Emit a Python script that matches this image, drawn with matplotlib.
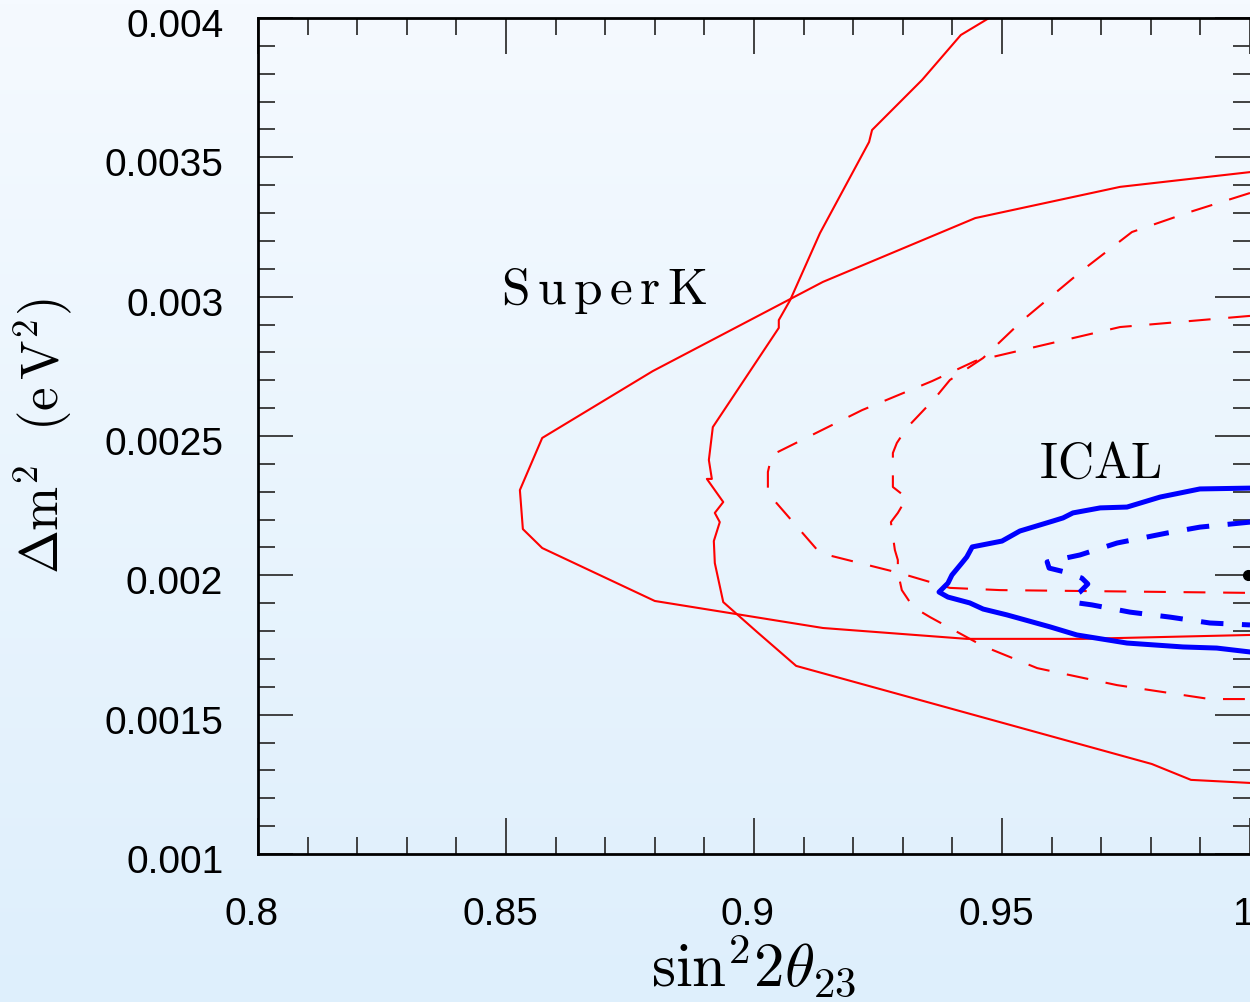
# SuperK vs ICAL allowed regions in sin^2 2theta23 - dm^2 plane
import numpy as np
import matplotlib.pyplot as plt
from matplotlib.transforms import ScaledTranslation

plt.rcParams['mathtext.fontset'] = 'cm'

# SuperK solid contour (wide in sin^2, narrow in dm^2)
sk1_x = [1.0, 0.9738, 0.9446, 0.9139, 0.8796, 0.8573, 0.8528, 0.8534, 0.8573, 0.8800, 0.9139, 0.9429, 0.9663, 1.0]
sk1_y = [0.003447, 0.003394, 0.003282, 0.003053, 0.002733, 0.002493, 0.002306, 0.002166, 0.002098, 0.001908, 0.001811, 0.001772, 0.001772, 0.001786]

# SuperK solid contour (narrow in sin^2, tall in dm^2)
sk2_x = [0.9474, 0.9417, 0.9339, 0.9238, 0.9232, 0.9133, 0.9073, 0.9050, 0.9050, 0.8917, 0.8909, 0.8915, 0.8905,
         0.8938, 0.8921, 0.8931, 0.8919, 0.8921, 0.8938, 0.9006, 0.9085, 0.9802, 0.9881, 1.0]
sk2_y = [0.004, 0.003939, 0.003778, 0.003598, 0.003555, 0.003228, 0.002988, 0.002916, 0.002888, 0.002532, 0.002414, 0.002346, 0.002346,
         0.002263, 0.002224, 0.002191, 0.002123, 0.002044, 0.001904, 0.001797, 0.001675, 0.001323, 0.001266, 0.001255]

# SuperK dashed contour (wide in sin^2)
sk3_x = [1.0, 0.9738, 0.9446, 0.9359, 0.9218, 0.9036, 0.9028, 0.9028, 0.9133, 0.9294, 0.9395, 0.9496, 1.0]
sk3_y = [0.002931, 0.002891, 0.002769, 0.002697, 0.002593, 0.002432, 0.002371, 0.002295, 0.00208, 0.002008, 0.001955, 0.001947, 0.001937]

# SuperK dashed contour (narrow in sin^2)
sk4_x = [1.0, 0.9879, 0.9762, 0.9663, 0.9542, 0.9462, 0.9395, 0.9365, 0.9308, 0.9288, 0.9280, 0.9280, 0.9308, 0.9290,
         0.9276, 0.9284, 0.9290, 0.9290, 0.9298, 0.9321, 0.9355, 0.9462, 0.9571, 0.9732, 0.9919, 1.0]
sk4_y = [0.003372, 0.003304, 0.003232, 0.003096, 0.002916, 0.00278, 0.002701, 0.002636, 0.002529, 0.002475, 0.002439, 0.002317, 0.002278, 0.002224,
         0.002191, 0.002091, 0.002055, 0.002012, 0.001947, 0.001886, 0.00185, 0.001746, 0.001667, 0.001606, 0.001556, 0.001556]

# ICAL solid contour
ic1_x = [1.0, 0.9899, 0.9819, 0.9752, 0.9698, 0.9643, 0.9623, 0.9603, 0.9536, 0.9500, 0.9440, 0.9429, 0.9419, 0.9399, 0.9391,
         0.9373, 0.9391, 0.9435, 0.9462, 0.9510, 0.9597, 0.9651, 0.9752, 0.9865, 0.9933, 1.0]
ic1_y = [0.002313, 0.00231, 0.002281, 0.002245, 0.002242, 0.002224, 0.002206, 0.002195, 0.002159, 0.002123, 0.002102, 0.002066, 0.002044, 0.002001, 0.001972,
         0.00194, 0.001922, 0.001901, 0.001879, 0.001858, 0.001815, 0.001786, 0.001757, 0.001743, 0.001739, 0.001725]

# ICAL dashed contour
ic2_x = [1.0, 0.9899, 0.9833, 0.9732, 0.9657, 0.9591, 0.9595, 0.9627, 0.9661, 0.9673, 0.9657, 0.9641, 0.9653, 0.9681,
         0.9758, 0.9839, 0.9919, 1.0]
ic2_y = [0.002191, 0.002173, 0.002152, 0.002116, 0.002073, 0.002048, 0.002026, 0.002012, 0.00199, 0.001969, 0.00194, 0.001922, 0.001901, 0.001894,
         0.001868, 0.00185, 0.001829, 0.001822]

best_fit = (0.9996, 0.002)

fig = plt.figure(figsize=(12.5, 10.02), dpi=100)

# light blue gradient background
bg = fig.add_axes([0, 0, 1, 1], zorder=-1)
grad = np.linspace(0, 1, 256).reshape(-1, 1)
top = np.array([245, 250, 255]) / 255
bot = np.array([222, 239, 252]) / 255
img = top + grad[..., None] * (bot - top)
bg.imshow(np.repeat(img, 2, axis=1), aspect='auto', extent=[0, 1, 0, 1])
bg.axis('off')

ax = fig.add_axes([258 / 1250, 1 - 854 / 1002, 992 / 1250, 836 / 1002])
ax.set_facecolor('none')

red_dash = (10.5, 8.5)
blue_dash = (4.5, 3.7)
ax.plot(sk1_x, sk1_y, color='red', lw=1.5)
ax.plot(sk2_x, sk2_y, color='red', lw=1.5)
ax.plot(sk3_x, sk3_y, color='red', lw=1.5, dashes=red_dash)
ax.plot(sk4_x, sk4_y, color='red', lw=1.5, dashes=red_dash)
ax.plot(ic1_x, ic1_y, color='blue', lw=3.6, solid_joinstyle='round')
ax.plot(ic2_x, ic2_y, color='blue', lw=3.6, dashes=blue_dash, dash_capstyle='butt')
ax.plot(*best_fit, 'o', color='black', ms=7, clip_on=False)

ax.set_xlim(0.8, 1.0)
ax.set_ylim(0.001, 0.004)
ax.set_xticks([0.8, 0.85, 0.9, 0.95, 1.0])
ax.set_xticklabels(['0.8', '0.85', '0.9', '0.95', '1'])
ax.set_xticks(np.arange(0.8, 1.001, 0.01), minor=True)
ax.set_yticks([0.001, 0.0015, 0.002, 0.0025, 0.003, 0.0035, 0.004])
ax.set_yticklabels(['0.001', '0.0015', '0.002', '0.0025', '0.003', '0.0035', '0.004'])
ax.set_yticks(np.arange(0.001, 0.00401, 0.0001), minor=True)

ax.tick_params(which='both', direction='in', top=True, right=True, color='#333333')
ax.tick_params(which='major', length=25, width=1.3, labelsize=28, pad=25)
ax.tick_params(which='minor', length=12, width=1.3)
ax.tick_params(axis='x', which='major', length=26, pad=29)
for lab in ax.get_xticklabels() + ax.get_yticklabels():
    lab.set_family('Liberation Sans')
for lab in ax.get_xticklabels():
    lab.set_transform(lab.get_transform() + ScaledTranslation(-0.06, -0.03, fig.dpi_scale_trans))
for lab in ax.get_yticklabels():
    lab.set_transform(lab.get_transform() + ScaledTranslation(0, -0.05, fig.dpi_scale_trans))

for s in ['left', 'bottom', 'top']:
    ax.spines[s].set_linewidth(2)
ax.spines['right'].set_visible(False)

ax.set_xlabel(r'$\mathrm{sin}^{2}2\theta_{23}$', fontsize=44, labelpad=0)
ax.set_ylabel(r'$\Delta\mathrm{m}^{2}\ \ (\mathrm{e\,V}^{2})$', fontsize=38, labelpad=22)

ax.text(0.849, 0.00302, r'$\mathrm{S\,u\,p\,e\,r\,K}$', fontsize=37, va='center')
ax.text(0.9575, 0.0024, r'$\mathrm{ICAL}$', fontsize=36, va='center')

fig.savefig('out.png', dpi=100)
